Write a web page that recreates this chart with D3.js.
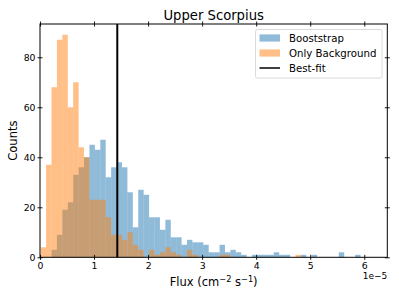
<!DOCTYPE html>
<html>
<head>
<meta charset="utf-8">
<script src="https://d3js.org/d3.v7.min.js"></script>
<style>
  body { margin: 0; background: white; }
  text { font-family: "DejaVu Sans", sans-serif; fill: black; }
</style>
</head>
<body>
<div id="graph"></div>
<script>
  // histogram bins (flux in 1e-5 units)
  const binStart = 0.0124;
  const binWidth = 0.1003;
  const bootstrapCounts = [0, 0, 3, 9, 19, 22, 33, 36, 40, 45, 43, 47, 32, 36, 38, 36, 26, 12, 27, 25,
    16, 16, 11, 15, 8, 8, 5, 7, 6, 6, 5, 2, 2, 5, 2, 3, 2, 1, 0, 1,
    1, 1, 1, 2, 1, 1, 0, 0, 1, 0, 1, 0, 0, 0, 0, 2, 0, 0, 1];
  const backgroundCounts = [4, 37, 68, 87, 89, 60, 70, 44, 40, 23, 23, 23, 16, 9, 9, 7, 10, 5, 3, 0,
    3, 1, 2, 4, 2, 1, 0, 3, 1, 0, 0, 0, 0, 1, 1, 0, 0, 0, 0, 0,
    0, 0, 0, 0, 0, 0, 0, 1];
  const bestFit = 1.43;
  const xTicks = [0, 1, 2, 3, 4, 5, 6];
  const yTicks = [0, 20, 40, 60, 80];
  const legendLabels = ['Booststrap', 'Only Background', 'Best-fit'];

  const W = 399, H = 299;
  const m = {left: 40, right: 387.3, top: 24, bottom: 257.3};

  const svg = d3.select('#graph').append('svg')
    .attr('width', W).attr('height', H);

  const x = d3.scaleLinear().domain([0, 6.426]).range([m.left, m.right]);
  const y = d3.scaleLinear().domain([0, 93.3]).range([m.bottom, m.top]);

  function bars(counts, color) {
    svg.append('g')
      .selectAll('rect')
      .data(counts)
      .enter()
      .append('rect')
      .attr('x', (d, i) => x(binStart + i * binWidth))
      .attr('width', (d, i) => x(binStart + (i + 1) * binWidth) - x(binStart + i * binWidth))
      .attr('y', d => y(d))
      .attr('height', d => y(0) - y(d))
      .attr('fill', color)
      .attr('fill-opacity', 0.5);
  }
  bars(bootstrapCounts, '#1f77b4');
  bars(backgroundCounts, '#ff7f0e');

  // best-fit line
  svg.append('line')
    .attr('x1', x(bestFit)).attr('x2', x(bestFit))
    .attr('y1', m.top).attr('y2', m.bottom)
    .attr('stroke', 'black').attr('stroke-width', 2);

  // axes
  const xAxis = svg.append('g')
    .attr('transform', 'translate(0,' + m.bottom + ')')
    .call(d3.axisBottom(x).tickValues(xTicks).tickFormat(d3.format('d')).tickSizeInner(2.5).tickSizeOuter(0));
  const xTop = svg.append('g')
    .attr('transform', 'translate(0,' + m.top + ')')
    .call(d3.axisTop(x).tickValues(xTicks).tickFormat('').tickSizeInner(2.5).tickSizeOuter(0));
  const yAxis = svg.append('g')
    .attr('transform', 'translate(' + m.left + ',0)')
    .call(d3.axisLeft(y).tickValues(yTicks).tickSizeInner(2.5).tickSizeOuter(0));
  const yRight = svg.append('g')
    .attr('transform', 'translate(' + m.right + ',0)')
    .call(d3.axisRight(y).tickValues(yTicks).tickFormat('').tickSizeInner(2.5).tickSizeOuter(0));

  [xAxis, xTop, yAxis, yRight].forEach(g => {
    g.select('.domain').remove();
    // ticks cross the spine
    g.selectAll('.tick line').each(function () {
      const l = d3.select(this);
      if (l.attr('y2') !== null && +l.attr('y2') !== 0) l.attr('y1', -l.attr('y2'));
      if (l.attr('x2') !== null && +l.attr('x2') !== 0) l.attr('x1', -l.attr('x2'));
    });
    g.selectAll('.tick line').attr('stroke', 'black').attr('stroke-width', 0.9);
    g.selectAll('text').attr('font-size', 9.3).attr('font-family', 'DejaVu Sans');
  });
  xAxis.selectAll('text').attr('dy', '0.71em').attr('y', 5);
  yAxis.selectAll('text').attr('x', -4.5);

  // frame
  svg.append('rect')
    .attr('x', m.left).attr('y', m.top)
    .attr('width', m.right - m.left).attr('height', m.bottom - m.top)
    .attr('fill', 'none').attr('stroke', 'black').attr('stroke-width', 1);

  // title and labels
  svg.append('text')
    .attr('x', (m.left + m.right) / 2).attr('y', 19.5)
    .attr('text-anchor', 'middle').attr('font-size', 13.2)
    .text('Upper Scorpius');

  svg.append('text')
    .attr('transform', 'translate(17,' + ((m.top + m.bottom) / 2) + ') rotate(-90)')
    .attr('text-anchor', 'middle').attr('font-size', 11.5)
    .text('Counts');

  const xl = svg.append('text')
    .attr('x', 0).attr('y', 286)
    .attr('font-size', 11.5);
  xl.append('tspan').text('Flux (cm');
  xl.append('tspan').attr('font-size', 8.2).attr('dy', -4.5).text('\u22122');
  xl.append('tspan').attr('dy', 4.5).text(' s');
  xl.append('tspan').attr('font-size', 8.2).attr('dy', -4.5).text('\u22121');
  xl.append('tspan').attr('dy', 4.5).text(')');
  const xlw = xl.node().getBBox().width;
  xl.attr('x', (m.left + m.right) / 2 - xlw / 2);

  svg.append('text')
    .attr('x', m.right).attr('y', 279)
    .attr('text-anchor', 'end').attr('font-size', 9)
    .text('1e\u22125');

  // legend
  const lg = svg.append('g');
  lg.append('rect')
    .attr('x', 255.5).attr('y', 29.5).attr('width', 126.5).attr('height', 48.5)
    .attr('rx', 2).attr('fill', 'white').attr('fill-opacity', 0.8)
    .attr('stroke', '#d0d0d0').attr('stroke-width', 0.8);
  const rowY = [38, 53, 68];
  lg.append('rect').attr('x', 259.5).attr('y', rowY[0] - 3.6).attr('width', 20.5).attr('height', 7.2)
    .attr('fill', '#1f77b4').attr('fill-opacity', 0.5);
  lg.append('rect').attr('x', 259.5).attr('y', rowY[1] - 3.6).attr('width', 20.5).attr('height', 7.2)
    .attr('fill', '#ff7f0e').attr('fill-opacity', 0.5);
  lg.append('line').attr('x1', 259.5).attr('x2', 280).attr('y1', rowY[2]).attr('y2', rowY[2])
    .attr('stroke', 'black').attr('stroke-width', 1.5);
  legendLabels.forEach((t, i) => {
    lg.append('text').attr('x', 289).attr('y', rowY[i]).attr('dy', '0.35em')
      .attr('font-size', 10.2).text(t);
  });
</script>
</body>
</html>
